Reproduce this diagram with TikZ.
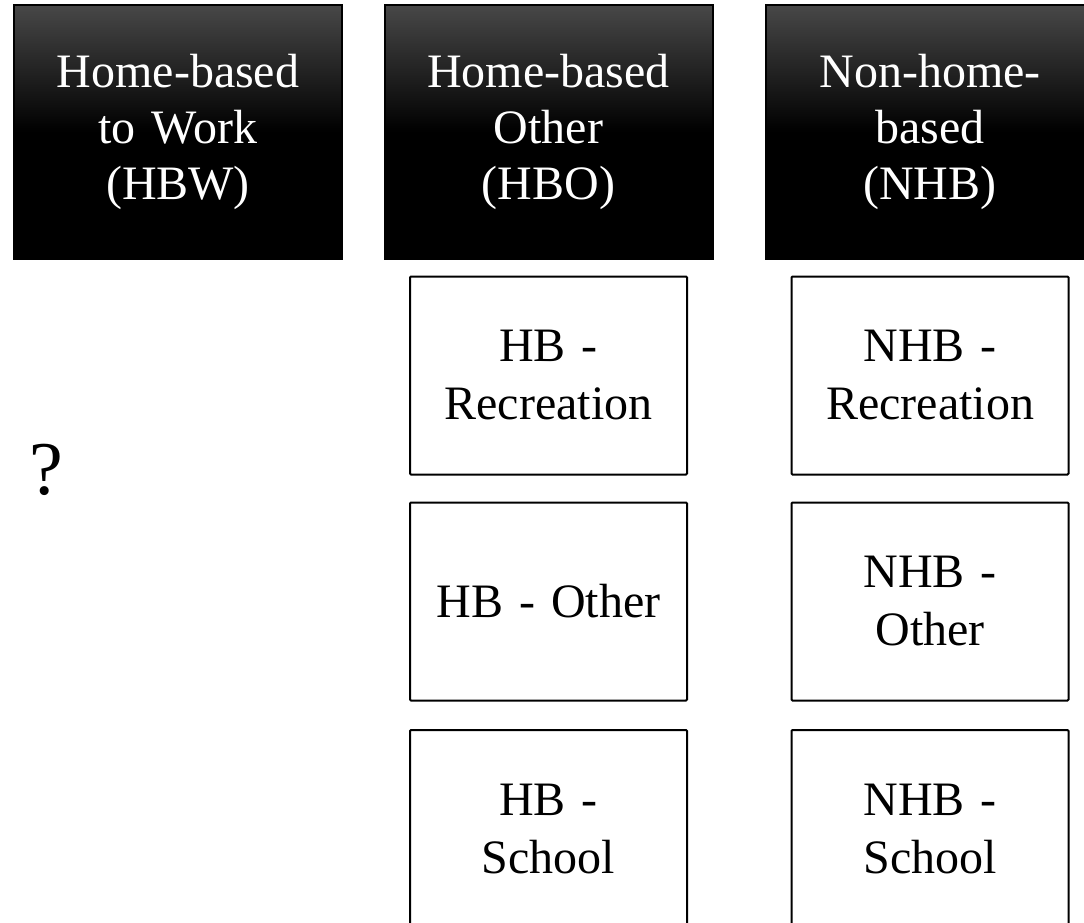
\documentclass[tikz,border=0pt]{standalone}
\usepackage{fontspec}
\setmainfont{Liberation Serif}
\begin{document}
\begin{tikzpicture}[x=1pt,y=-1pt,
    purpose/.style={draw=black, line width=2pt, top color=black!72,
              bottom color=black, middle color=black, text=white,
              minimum width=328pt, minimum height=254pt, text width=300pt,
              align=center, inner sep=0pt,
              font=\fontsize{48}{56}\selectfont},
    subbox/.style={draw, line width=2pt, rounded corners=1pt, fill=white,
              minimum width=277pt, minimum height=198pt, text width=260pt,
              align=center, inner sep=0pt,
              font=\fontsize{48}{58}\selectfont}]
        \useasboundingbox (0,0) rectangle (1084,923);
        \clip (0,0) rectangle (1084,923);
        % trip purposes
        \node[purpose] (hbw) at (178,132) {Home-based\\to Work\\(HBW)};
        \node[purpose] (hbo) at (548.5,132) {Home-based\\Other\\(HBO)};
        \node[purpose] (nhb) at (930,132) {Non-home-\\based\\(NHB)};
        % sub purposes
        \node[subbox] (hbrec) at (548.5,375.5) {HB -\\Recreation};
        \node[subbox] (hboth) at (548.5,601.5) {HB - Other};
        \node[subbox] (hbsch) at (548.5,829) {HB -\\School};
        \node[subbox] (nhbrec) at (930,375.5) {NHB -\\Recreation};
        \node[subbox] (nhboth) at (930,601.5) {NHB -\\Other};
        \node[subbox] (nhbsch) at (930,829) {NHB -\\School};
        \node[font=\fontsize{76}{84}\selectfont] (unknown) at (46,470) {?};
    \end{tikzpicture}
\end{document}
